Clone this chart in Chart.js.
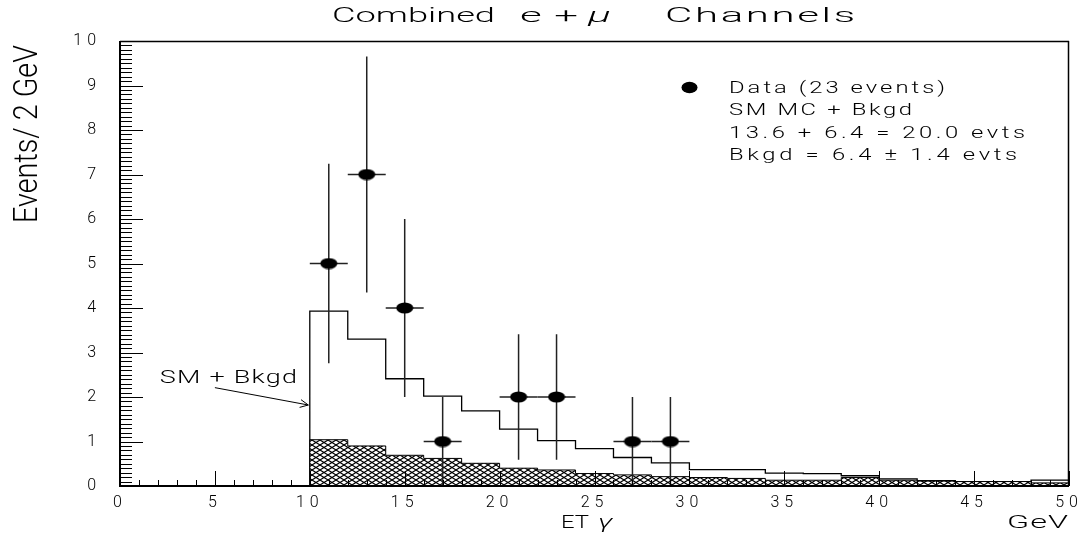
<!DOCTYPE html>
<html><head><meta charset="utf-8">
<script src="https://cdn.jsdelivr.net/npm/chart.js@4.4.1/dist/chart.umd.min.js"></script>
<style>html,body{margin:0;padding:0;background:#fff;overflow:hidden}#wrap{width:1091px;height:540px}</style>
</head><body><div id="wrap"><canvas id="c" width="1091" height="540"></canvas></div>
<script>
// ---------- data ----------
const binEdges   = [10,12,14,16,18,20,22,24,26,28,30,32,34,36,38,40,42,44,46,48,50];
const smPlusBkgd = [3.93,3.30,2.41,2.02,1.69,1.28,1.02,0.84,0.64,0.52,0.37,0.37,0.29,0.28,0.23,0.16,0.12,0.10,0.10,0.13];
const bkgdOnly   = [1.04,0.90,0.69,0.62,0.51,0.40,0.36,0.28,0.25,0.21,0.19,0.17,0.13,0.13,0.19,0.13,0.11,0.10,0.10,0.07];
const dataEt     = [11,13,15,17,21,23,27,29];
const dataCounts = [5,7,4,1,2,2,1,1];
const dataErrY   = [2.24,2.65,2.00,1.00,1.41,1.41,1.00,1.00];
const dataErrX   = [1,1,1,1,1,1,1,1];
const titleWords = ["Combined","e+","\u03bc","Channels"];
const yTitle     = "Events/ 2 GeV";
const xTitleWords = ["ET","\u03b3"];
const xUnit      = "GeV";
const legendLines = ["Data (23 events)","SM MC + Bkgd","13.6 + 6.4 = 20.0 evts","Bkgd = 6.4 \u00b1 1.4 evts"];
const annoText   = "SM + Bkgd";

const FONT = "Roboto, 'Liberation Sans', 'DejaVu Sans', sans-serif";

function stepPoints(vals){
  const pts=[{x:binEdges[0],y:0}];
  vals.forEach((v,i)=>pts.push({x:binEdges[i],y:v}));
  pts.push({x:binEdges[binEdges.length-1],y:vals[vals.length-1]});
  return pts;
}

function ellipseCanvas(w,h){
  const c=document.createElement('canvas'); c.width=w; c.height=h;
  const g=c.getContext('2d'); g.fillStyle='#000';
  g.beginPath(); g.ellipse(w/2,h/2,w/2-0.5,h/2-0.5,0,0,Math.PI*2); g.fill();
  return c;
}
const marker = ellipseCanvas(18,12);

function hatchPattern(){
  const c=document.createElement('canvas'); c.width=8; c.height=5;
  const g=c.getContext('2d');
  g.fillStyle='#fff'; g.fillRect(0,0,8,5);
  g.strokeStyle='#000'; g.lineWidth=1.1;
  g.beginPath();
  g.moveTo(-1,-0.625); g.lineTo(9,5.625);
  g.moveTo(-1,5.625); g.lineTo(9,-0.625);
  g.stroke();
  return g.createPattern(c,'repeat');
}

function fitText(ctx,str,x,y,o){
  ctx.save();
  ctx.font=`${o.italic?'italic ':''}${o.weight||300} ${o.size}px ${FONT}`;
  ctx.letterSpacing='0px';
  const w=ctx.measureText(str).width;
  const s=Math.min(o.maxScale||1.4,o.width/w);
  const n=[...str].length;
  let ls=n>1?(o.width/s-w)/(n-1):0; if(ls<0) ls=0;
  ctx.translate(x,y);
  if(o.rotate) ctx.rotate(o.rotate);
  ctx.scale(s,1);
  ctx.letterSpacing=ls.toFixed(2)+'px';
  ctx.textAlign='left'; ctx.textBaseline='alphabetic';
  ctx.fillStyle='#000';
  ctx.fillText(str,0,0);
  ctx.restore();
}

const deco = {
  id:'deco',
  beforeDraw(chart){ chart.ctx.letterSpacing='5px'; },
  beforeDatasetDraw(chart,args){
    if(args.index!==2) return;
    const ctx=chart.ctx, xs=chart.scales.x, ys=chart.scales.y;
    ctx.save(); ctx.letterSpacing='0px';
    ctx.strokeStyle='#222'; ctx.lineWidth=1.5;
    dataEt.forEach((e,i)=>{
      const px=xs.getPixelForValue(e), py=ys.getPixelForValue(dataCounts[i]);
      ctx.beginPath();
      ctx.moveTo(px,ys.getPixelForValue(dataCounts[i]-dataErrY[i]));
      ctx.lineTo(px,ys.getPixelForValue(dataCounts[i]+dataErrY[i]));
      ctx.moveTo(xs.getPixelForValue(e-dataErrX[i]),py);
      ctx.lineTo(xs.getPixelForValue(e+dataErrX[i]),py);
      ctx.stroke();
    });
    ctx.restore();
  },
  afterDatasetsDraw(chart){
    const ctx=chart.ctx, xs=chart.scales.x, ys=chart.scales.y, a=chart.chartArea;
    ctx.save(); ctx.letterSpacing='0px'; ctx.strokeStyle='#000';
    ctx.lineWidth=1;
    ctx.beginPath();
    for(let k=0;k<=100;k++){
      const v=k/10, py=Math.round(ys.getPixelForValue(v))+0.5;
      const len=(k%10===0)?23:12;
      ctx.moveTo(a.left,py); ctx.lineTo(a.left+len,py);
    }
    for(let k=0;k<=50;k++){
      const px=Math.round(xs.getPixelForValue(k))+0.5;
      const len=(k%5===0)?15:6;
      ctx.moveTo(px,a.bottom); ctx.lineTo(px,a.bottom-len);
    }
    ctx.stroke();
    ctx.lineWidth=1.5;
    ctx.beginPath(); ctx.moveTo(a.left,a.top+0.5); ctx.lineTo(a.right,a.top+0.5);
    ctx.moveTo(a.right-0.5,a.top); ctx.lineTo(a.right-0.5,a.bottom); ctx.stroke();
    ctx.lineWidth=2;
    ctx.beginPath(); ctx.moveTo(a.left,a.top); ctx.lineTo(a.left,a.bottom); ctx.lineTo(a.right,a.bottom); ctx.stroke();
    const ax0=xs.getPixelForValue(5.0), ay0=ys.getPixelForValue(2.21);
    const ax1=xs.getPixelForValue(9.92), ay1=ys.getPixelForValue(1.82);
    ctx.lineWidth=1;
    ctx.beginPath(); ctx.moveTo(ax0,ay0); ctx.lineTo(ax1,ay1);
    const ang=Math.atan2(ay1-ay0,ax1-ax0), hl=9;
    ctx.moveTo(ax1-hl*Math.cos(ang-0.45),ay1-hl*Math.sin(ang-0.45)); ctx.lineTo(ax1,ay1);
    ctx.lineTo(ax1-hl*Math.cos(ang+0.45),ay1-hl*Math.sin(ang+0.45));
    ctx.stroke();
    ctx.restore();
  },
  afterDraw(chart){
    const ctx=chart.ctx, xs=chart.scales.x, ys=chart.scales.y;
    ctx.letterSpacing='0px';
    // title, word by word
    const tx=[[332,163],[520,58],[588,28],[665,190]];
    titleWords.forEach((w,i)=>fitText(ctx,w,tx[i][0],21.5,{size:21,width:tx[i][1],maxScale:2.0,italic:i===2}));
    fitText(ctx,yTitle,37,223,{size:34,width:178,maxScale:1,rotate:-Math.PI/2});
    fitText(ctx,xTitleWords[0],561,528,{size:18,width:28,maxScale:1.8});
    fitText(ctx,xTitleWords[1],598,528,{size:19,width:20,maxScale:1.6,italic:true});
    fitText(ctx,xUnit,1007,528,{size:18,width:61,maxScale:1.8});
    fitText(ctx,annoText,xs.getPixelForValue(2.1),ys.getPixelForValue(2.31),{size:18,width:137,maxScale:1.5});
    const base=[93,114.5,137.7,160], widths=[216,183,296,288];
    legendLines.forEach((t,i)=>fitText(ctx,t,729,base[i],{size:17,width:widths[i],maxScale:1.4}));
    ctx.save(); ctx.fillStyle='#000'; ctx.beginPath(); ctx.ellipse(689.5,87.5,8,5.8,0,0,Math.PI*2); ctx.fill(); ctx.restore();
  }
};

new Chart(document.getElementById('c'),{
  type:'line',
  data:{datasets:[
    {label:'SM + Bkgd',data:stepPoints(smPlusBkgd),stepped:true,borderColor:'#000',borderWidth:1.3,pointRadius:0,fill:false,order:3},
    {label:'Bkgd',data:stepPoints(bkgdOnly),stepped:true,borderColor:'#000',borderWidth:1,pointRadius:0,fill:'origin',backgroundColor:hatchPattern(),order:2},
    {type:'scatter',label:'Data',data:dataEt.map((e,i)=>({x:e,y:dataCounts[i]})),showLine:false,pointStyle:marker,pointRadius:9,order:1}
  ]},
  options:{
    animation:false,responsive:false,devicePixelRatio:1,
    layout:{padding:{top:41,right:22,left:0,bottom:0}},
    plugins:{legend:{display:false},tooltip:{enabled:false},title:{display:false}},
    scales:{
      x:{type:'linear',min:0,max:50,afterFit:s=>{s.height=54;},
         grid:{display:false,drawTicks:false},border:{display:false},
         ticks:{stepSize:5,padding:7,color:'#000',maxRotation:0,autoSkip:false,font:{family:FONT,size:16,weight:300}}},
      y:{type:'linear',min:0,max:10,afterFit:s=>{s.width=120;},
         grid:{display:false,drawTicks:false},border:{display:false},
         ticks:{stepSize:1,padding:19,color:'#000',font:{family:FONT,size:16,weight:300}}}
    }
  },
  plugins:[deco]
});
</script></body></html>
